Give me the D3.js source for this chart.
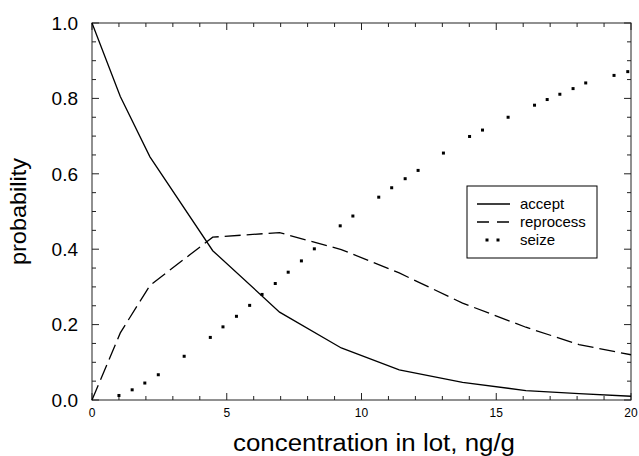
<!DOCTYPE html>
<html><head><meta charset="utf-8">
<script src="https://cdn.jsdelivr.net/npm/d3@7"></script>
<style>body{margin:0;background:#fff}svg{display:block}text{font-family:"Liberation Sans",Arial,sans-serif;fill:#000}</style>
</head><body><svg id="c" width="639" height="456"></svg>
<script>
const concentration = [0, 1.05, 2.15, 4.48, 6.96, 9.25, 11.4, 13.75, 16.1, 18.07, 20];
const accept    = [1.0, 0.805, 0.645, 0.396, 0.233, 0.138, 0.080, 0.047, 0.025, 0.017, 0.01];
const reprocess = [0, 0.178, 0.304, 0.432, 0.444, 0.399, 0.337, 0.257, 0.193, 0.147, 0.12];
const seizeX = [1.0, 1.49, 1.96, 2.46, 3.42, 4.39, 4.86, 5.36, 5.85, 6.31, 6.80, 7.28, 7.77, 8.25, 9.21, 9.68, 10.64, 11.12, 11.62, 12.1, 13.04, 14.01, 14.49, 15.44, 16.42, 16.89, 17.36, 17.85, 18.32, 19.37, 19.88];
const seizeY = [0.012, 0.027, 0.045, 0.067, 0.116, 0.166, 0.194, 0.222, 0.251, 0.28, 0.309, 0.339, 0.369, 0.401, 0.462, 0.488, 0.538, 0.563, 0.587, 0.609, 0.655, 0.699, 0.716, 0.75, 0.782, 0.797, 0.811, 0.826, 0.841, 0.861, 0.871];
const xMajor = [0, 5, 10, 15, 20];
const yMajor = [0.0, 0.2, 0.4, 0.6, 0.8, 1.0];
const legendLabels = ["accept", "reprocess", "seize"];

const svg = d3.select("#c");
const L = 92, R = 631, T = 23, B = 400;
const x = d3.scaleLinear().domain([0, 20]).range([L, R]);
const y = d3.scaleLinear().domain([0, 1]).range([B, T]);

const xMinor = d3.range(0, 21, 1).filter(v => v % 5 !== 0);
const yMinor = d3.range(0, 21, 1).map(v => v / 20).filter((v, i) => i % 4 !== 0);

// axes (ticks inward)
const ax = svg.append("g").attr("stroke", "#222").attr("stroke-width", 1);
ax.append("rect").attr("x", L).attr("y", T).attr("width", R - L).attr("height", B - T).attr("fill", "none");
function hTicks(vals, len) {
  vals.forEach(v => {
    ax.append("line").attr("x1", x(v)).attr("x2", x(v)).attr("y1", B).attr("y2", B - len);
    ax.append("line").attr("x1", x(v)).attr("x2", x(v)).attr("y1", T).attr("y2", T + len);
  });
}
function vTicks(vals, len) {
  vals.forEach(v => {
    ax.append("line").attr("y1", y(v)).attr("y2", y(v)).attr("x1", L).attr("x2", L + len);
    ax.append("line").attr("y1", y(v)).attr("y2", y(v)).attr("x1", R).attr("x2", R - len);
  });
}
hTicks(xMajor, 7); hTicks(xMinor, 4);
vTicks(yMajor, 7); vTicks(yMinor, 4);

svg.append("g").selectAll("text").data(xMajor).join("text")
  .attr("x", d => x(d)).attr("y", 417).attr("text-anchor", "middle")
  .attr("font-size", 12).text(d => d);
svg.append("g").selectAll("text").data(yMajor).join("text")
  .attr("x", 78).attr("y", d => y(d)).attr("dy", "0.36em").attr("text-anchor", "end")
  .attr("font-size", 19).text(d => d.toFixed(1));

svg.append("text").attr("x", 233).attr("y", 451).attr("font-size", 23)
  .attr("textLength", 282).attr("lengthAdjust", "spacingAndGlyphs")
  .text("concentration in lot, ng/g");
svg.append("text").attr("transform", "translate(25.5,265) rotate(-90)")
  .attr("font-size", 22).attr("textLength", 107).attr("lengthAdjust", "spacingAndGlyphs")
  .text("probability");

// lines
const line = d3.line().x(d => x(d[0])).y(d => y(d[1]));
svg.append("path").datum(concentration.map((c, i) => [c, accept[i]]))
  .attr("d", line).attr("fill", "none").attr("stroke", "#000").attr("stroke-width", 1.3);
svg.append("path").datum(concentration.map((c, i) => [c, reprocess[i]]))
  .attr("d", line).attr("fill", "none").attr("stroke", "#000").attr("stroke-width", 1.3)
  .attr("stroke-dasharray", "16,6");
svg.append("g").selectAll("rect").data(seizeX.map((c, i) => [c, seizeY[i]])).join("rect")
  .attr("x", d => x(d[0]) - 1.5).attr("y", d => y(d[1]) - 1.5)
  .attr("width", 3).attr("height", 3).attr("fill", "#000");

// legend
const lg = svg.append("g");
lg.append("rect").attr("x", 467).attr("y", 186).attr("width", 130).attr("height", 72)
  .attr("fill", "#fff").attr("stroke", "#000").attr("stroke-width", 1);
const rowY = [204, 222, 240];
legendLabels.forEach((lab, i) => {
  if (i === 0) lg.append("line").attr("x1", 477).attr("x2", 510).attr("y1", rowY[i]).attr("y2", rowY[i]).attr("stroke", "#000").attr("stroke-width", 1.3);
  if (i === 1) lg.append("line").attr("x1", 477).attr("x2", 510).attr("y1", rowY[i]).attr("y2", rowY[i]).attr("stroke", "#000").attr("stroke-width", 1.3).attr("stroke-dasharray", "12,8");
  if (i === 2) [487, 498].forEach(px => lg.append("rect").attr("x", px - 1.5).attr("y", rowY[i] - 1.5).attr("width", 3).attr("height", 3).attr("fill", "#000"));
  lg.append("text").attr("x", 520).attr("y", rowY[i]).attr("dy", "0.35em").attr("font-size", 15).text(lab);
});
</script></body></html>
